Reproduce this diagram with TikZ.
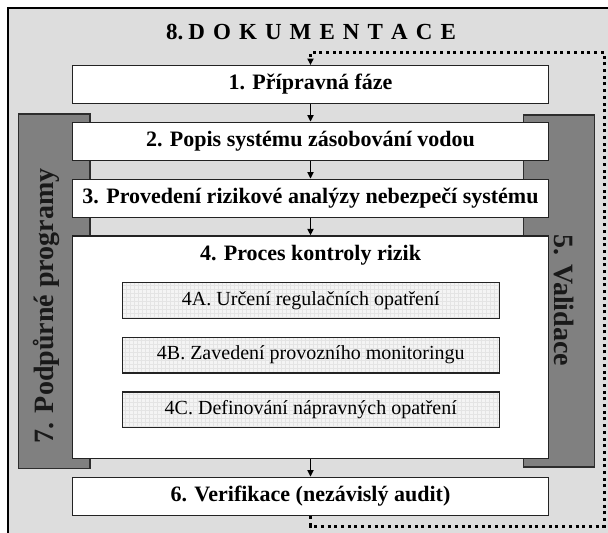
\documentclass[tikz,border=0pt]{standalone}
\usepackage{fontspec}
\setmainfont{Liberation Serif}
\usetikzlibrary{arrows.meta}
\definecolor{framebg}{RGB}{221,221,221}
\definecolor{edge}{RGB}{35,35,35}
\definecolor{subfill}{RGB}{244,244,244}
\definecolor{subgrid}{RGB}{228,228,228}
\definecolor{barfill}{RGB}{128,128,128}
\definecolor{baredge}{RGB}{45,45,45}
\definecolor{bartxt}{RGB}{25,25,25}
\newcommand{\lsp}{\hspace{8.1pt}}
\begin{document}
\begin{tikzpicture}[x=1pt,y=-1pt,
  box/.style={draw=edge,line width=1.3pt,fill=white,minimum width=475.6pt,inner sep=0pt,font=\fontsize{22}{26}\selectfont\bfseries},
  subbox/.style={draw=edge,line width=1.3pt,fill=subfill,minimum width=377pt,minimum height=35.6pt,inner sep=0pt,font=\fontsize{20}{24}\selectfont,
    path picture={\draw[subgrid,line width=0.3pt] (path picture bounding box.south west) grid[step=4pt] (path picture bounding box.north east);}},
  bar/.style={draw=baredge,line width=1.1pt,fill=barfill,inner sep=0pt},
  bartext/.style={font=\fontsize{28}{32}\selectfont\bfseries,text=bartxt,inner sep=0pt},
  flow/.style={line width=1.8pt,-{Triangle[length=6.5pt,width=6pt]}},
  loopline/.style={line width=3pt,dash pattern=on 3pt off 3.7pt,-{Triangle[length=6.5pt,width=6pt]}}
]
\useasboundingbox (0,0) rectangle (608,533);
\clip (0,0) rectangle (608,533);
% outer frame
\draw[line width=2.5pt,fill=framebg] (8,8) rectangle (630,560);
\node[font=\fontsize{23}{27}\selectfont\bfseries,inner sep=0pt] (t8) at (311,32) {8.\hspace{5pt}D\lsp O\lsp K\lsp U\lsp M\lsp E\lsp N\lsp T\lsp A\lsp C\lsp E};
% side bars
\node[bar,minimum width=71.7pt,minimum height=354.3pt] (b7) at (54.15,291.15) {};
\node[bar,minimum width=71pt,minimum height=352pt] (b5) at (558.8,291) {};
\node[bartext,rotate=90] (t7) at (46,306) {7. Podpůrné programy};
\node[bartext,rotate=-90] (t5) at (564,300) {5. Validace};
% main boxes
\node[box,minimum height=37.6pt] (b1) at (310.5,84.5) {1. Přípravná fáze};
\node[box,minimum height=38pt] (b2) at (310.5,141.3) {2. Popis systému zásobování vodou};
\node[box,minimum height=38pt] (b3) at (310.5,198.3) {3. Provedení rizikové analýzy nebezpečí systému};
\node[box,minimum height=222.7pt] (b4) at (310.5,347.35) {};
\node[font=\fontsize{22}{26}\selectfont\bfseries,inner sep=0pt] (t4) at (310.5,255) {4. Proces kontroly rizik};
\node[subbox] (b4a) at (310.8,300.5) {4A. Určení regulačních opatření};
\node[subbox] (b4b) at (310.8,355.1) {4B. Zavedení provozního monitoringu};
\node[subbox] (b4c) at (310.8,409.7) {4C. Definování nápravných opatření};
\node[box,minimum height=38.4pt] (b6) at (310.5,496.5) {6. Verifikace (nezávislý audit)};
% flow arrows
\draw[flow] (b1.south) -- (b2.north);
\draw[flow] (b2.south) -- (b3.north);
\draw[flow] (b3.south) -- (b4.north);
\draw[flow] (b4.south) -- (b6.north);
% feedback loop
\coordinate (c1) at (604,526);
\coordinate (c2) at (604,52.3);
\draw[loopline] (b6.south) |- (c1) -- (c2) -| (b1.north);
\end{tikzpicture}
\end{document}
